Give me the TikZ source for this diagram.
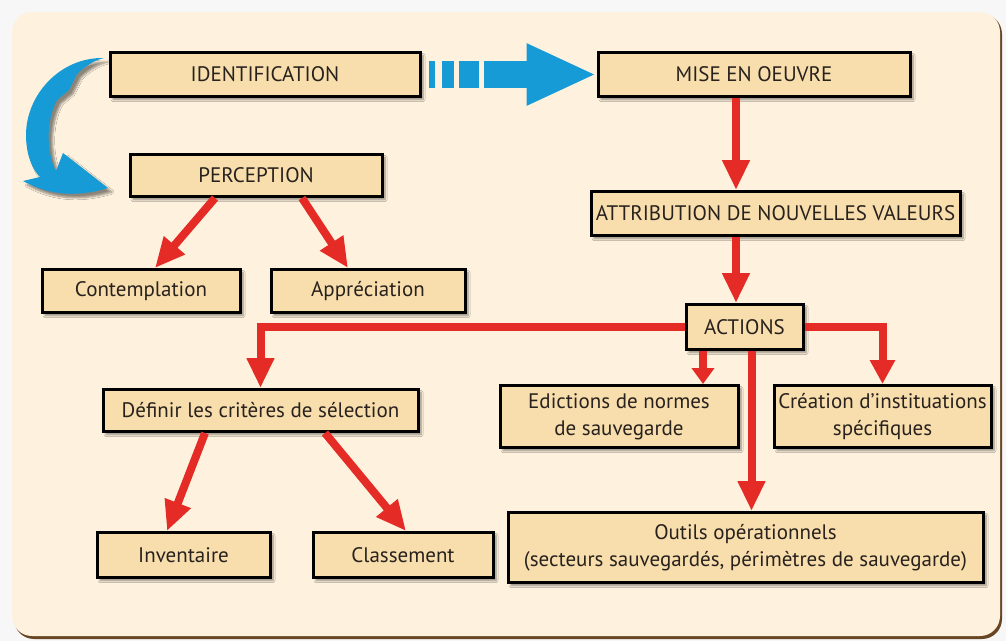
\documentclass[tikz,border=0pt]{standalone}
\usepackage{fontspec}
\setmainfont{PT Sans}
\usepackage{xcolor}
\usepackage{tikz}
\usetikzlibrary{arrows.meta,positioning,shadows.blur}

\definecolor{panel}{RGB}{254,242,222}
\definecolor{boxfill}{RGB}{247,222,172}
\definecolor{arrowred}{RGB}{229,43,38}
\definecolor{skyblue}{RGB}{22,155,215}
\definecolor{ink}{RGB}{40,33,30}

\begin{document}
\begin{tikzpicture}[x=1pt, y=1pt,
  font=\fontsize{21}{27}\selectfont,
  box/.style={draw=black, line width=3pt, fill=boxfill, text=ink,
    minimum height=44pt, inner sep=3pt, align=center,
    blur shadow={shadow xshift=3pt, shadow yshift=-3pt, shadow blur steps=6, shadow opacity=45}},
  e/.style={draw=arrowred, line width=8pt, -{Triangle[length=30pt,width=26pt]}},
]
\useasboundingbox (0,0) rectangle (1006,-641);
\fill[black!3] (0,0) rectangle (1006,-641);
\fill[rounded corners=20pt, brown!55!black] (14,-14) rectangle (1002,-639);
\fill[rounded corners=20pt, panel] (12,-12) rectangle (1000,-636);

\node[box, minimum width=310pt] (ident) at (265,-74.5) {IDENTIFICATION};
\node[box, minimum width=312pt, right=175pt of ident] (mise) {MISE EN OEUVRE};
\node[box, minimum width=252pt, minimum height=42pt, below=55pt of ident, xshift=-9pt] (percep) {PERCEPTION};
\node[box, minimum width=369pt, below=92pt of mise, xshift=21.5pt] (attrib) {ATTRIBUTION DE NOUVELLES VALEURS};
\node[box, minimum width=198pt, minimum height=43pt, below=70pt of percep, xshift=-115pt] (contemp) {Contemplation};
\node[box, minimum width=194pt, minimum height=43pt, right=28pt of contemp] (apprec) {Appréciation};
\node[box, minimum width=117pt, minimum height=45pt, below=66pt of attrib, xshift=-31pt] (actions) {ACTIONS};
\node[box, minimum width=315pt, minimum height=42pt, below=74pt of contemp, xshift=119.5pt] (definir) {Définir les critères de sélection};
\node[box, minimum width=238pt, minimum height=62pt, below=33pt of actions, xshift=-125.5pt] (edict) {Edictions de normes\\de sauvegarde};
\node[box, minimum width=217pt, minimum height=62pt, right=33pt of edict] (creation) {Création d’instituations\\spécifiques};
\node[box, minimum width=475pt, minimum height=70pt, below=62pt of edict, xshift=126.5pt] (outils) {Outils opérationnels\\(secteurs sauvegardés, périmètres de sauvegarde)};
\node[box, minimum width=173pt, minimum height=45pt, below=98pt of definir, xshift=-77pt] (invent) {Inventaire};
\node[box, minimum width=180pt, minimum height=45pt, right=40pt of invent] (classe) {Classement};

% blue arrows
\fill[skyblue, blur shadow={shadow xshift=4pt, shadow yshift=-4pt, shadow blur steps=6, shadow opacity=45}]
  (104,-58) .. controls (60,-57) and (26,-95) .. (26,-135)
  .. controls (26,-156) and (33,-170) .. (40,-177) -- (23,-181)
  .. controls (45,-193) and (72,-199) .. (108,-188) -- (63,-153) -- (56,-171)
  .. controls (47,-155) and (45,-122) .. (57,-100) -- (69,-90) -- (77,-74)
  .. controls (85,-66) and (95,-60) .. (104,-58) -- cycle;
\draw[skyblue, line width=27pt, dash pattern=on 6pt off 7pt on 12pt off 5pt on 20pt off 5pt on 300pt,
  shorten <=7pt, -{Triangle[length=70pt,width=57pt]}] (ident.east) -- (mise.west);

% red arrows
\coordinate (m1) at ([xshift=-18pt]mise.south);
\draw[e] (m1) -- (m1 |- attrib.north);
\draw[e] (m1 |- attrib.south) -- (m1 |- actions.north);
\draw[e] (actions.west) -| (definir.north);
\draw[e, -{Triangle[length=24pt,width=24pt]}] (actions.east) -| (creation.north);
\coordinate (a1) at ([xshift=-41.5pt]actions.south);
\draw[e, -{Triangle[length=16pt,width=22pt]}] (a1) -- (a1 |- edict.north);
\coordinate (a2) at ([xshift=7pt]actions.south);
\draw[e] (a2) -- (a2 |- outils.north);
\draw[e] ([xshift=-41pt]percep.south) -- ([xshift=14pt]contemp.north);
\draw[e] ([xshift=46pt]percep.south) -- ([xshift=-20pt]apprec.north);
\draw[e] ([xshift=-55.5pt]definir.south) -- ([xshift=-16.5pt]invent.north);
\draw[e] ([xshift=64.5pt]definir.south) -- ([xshift=3pt]classe.north);
\end{tikzpicture}
\end{document}
